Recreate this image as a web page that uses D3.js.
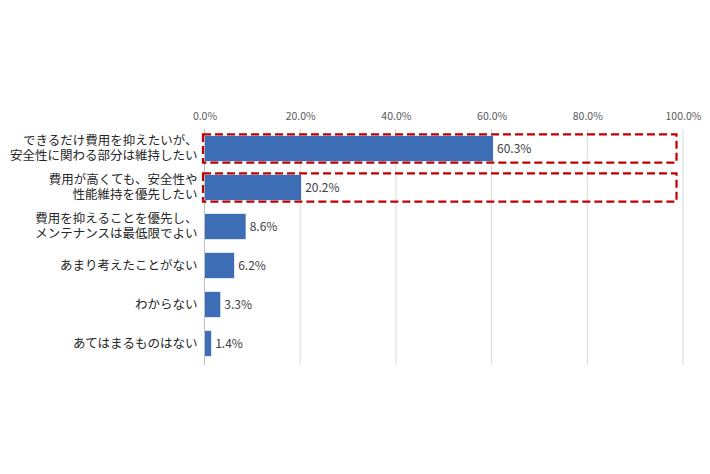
<!DOCTYPE html>
<html>
<head>
<meta charset="utf-8">
<script src="https://cdn.jsdelivr.net/npm/d3@7"></script>
<style>
  body { margin: 0; background: #fff; }
  text { font-family: "Noto Sans CJK JP", "Noto Sans", sans-serif; }
</style>
</head>
<body>
<script>
const categories = [
    ["できるだけ費用を抑えたいが、", "安全性に関わる部分は維持したい"],
    ["費用が高くても、安全性や", "性能維持を優先したい"],
    ["費用を抑えることを優先し、", "メンテナンスは最低限でよい"],
    ["あまり考えたことがない"],
    ["わからない"],
    ["あてはまるものはない"]
];
const values = [60.3, 20.2, 8.6, 6.2, 3.3, 1.4];
const ticks = [0, 20, 40, 60, 80, 100];
const highlighted = [0, 1];

const margin = { top: 129, right: 27, bottom: 111, left: 204.5 };
const width = 710 - margin.left - margin.right;
const height = 474 - margin.top - margin.bottom;

const svg = d3.select("body").append("svg")
    .attr("width", 710)
    .attr("height", 474);

const g = svg.append("g")
    .attr("transform", `translate(${margin.left}, ${margin.top})`);

const x = d3.scaleLinear()
    .domain([0, 100])
    .range([0, width]);

const y = d3.scaleBand()
    .domain(d3.range(values.length))
    .range([0, height])
    .paddingInner(0.35)
    .paddingOuter(0.175);

// gridlines
g.selectAll(".grid")
    .data(ticks.slice(1))
    .join("line")
    .attr("class", "grid")
    .attr("x1", d => x(d))
    .attr("x2", d => x(d))
    .attr("y1", 0)
    .attr("y2", height + 2)
    .attr("stroke", "#d9d9d9")
    .attr("stroke-width", 1);

// top axis labels
g.append("g")
    .call(d3.axisTop(x).tickValues(ticks).tickSize(0).tickFormat(d => d3.format(".1f")(d) + "%"))
    .call(a => a.select(".domain").remove())
    .selectAll("text")
    .attr("y", -9)
    .attr("fill", "#595959")
    .style("font-size", "10.5px")
    .style("font-family", "'Noto Sans CJK JP', sans-serif");

// bars
g.selectAll(".bar")
    .data(values)
    .join("rect")
    .attr("class", "bar")
    .attr("x", 0)
    .attr("y", (d, i) => y(i))
    .attr("width", d => x(d))
    .attr("height", y.bandwidth())
    .attr("fill", "#3d6db4");

// axis line at zero
g.append("line")
    .attr("x1", 0).attr("x2", 0)
    .attr("y1", 0).attr("y2", height + 2)
    .attr("stroke", "#bfbfbf");

// value labels
g.selectAll(".val")
    .data(values)
    .join("text")
    .attr("class", "val")
    .attr("x", d => x(d) + 4)
    .attr("y", (d, i) => y(i) + y.bandwidth() / 2)
    .attr("dy", "0.35em")
    .attr("fill", "#404040")
    .style("font-size", "12px")
    .text(d => d3.format(".1f")(d) + "%");

// category labels
const lab = g.selectAll(".cat")
    .data(categories)
    .join("text")
    .attr("class", "cat")
    .attr("text-anchor", "end")
    .attr("x", -7)
    .attr("y", (d, i) => y(i) + y.bandwidth() / 2)
    .attr("fill", "#262626")
    .style("font-size", "12.5px");

lab.selectAll("tspan")
    .data(d => d.map((t, k) => ({ t, k, n: d.length })))
    .join("tspan")
    .attr("x", -7)
    .attr("dy", d => d.k === 0 ? `${0.35 - (d.n - 1) * 0.6}em` : "1.2em")
    .text(d => d.t);

// red dashed highlight boxes
g.selectAll(".hl")
    .data(highlighted)
    .join("rect")
    .attr("class", "hl")
    .attr("x", -1.5)
    .attr("y", i => y(i) - 1.5)
    .attr("width", x(100) - 5)
    .attr("height", y.bandwidth() + 3)
    .attr("fill", "none")
    .attr("stroke", "#c00000")
    .attr("stroke-width", 2.2)
    .attr("stroke-dasharray", "8,4");
</script>
</body>
</html>
